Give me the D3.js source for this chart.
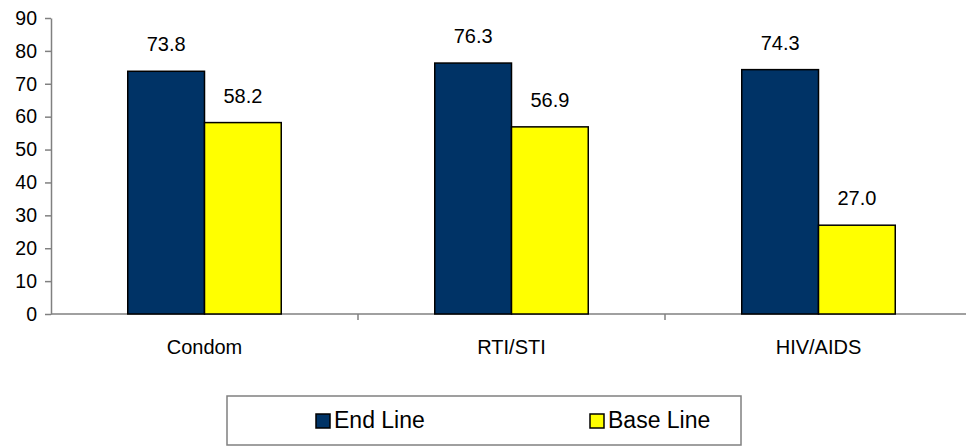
<!DOCTYPE html>
<html><head><meta charset="utf-8">
<script src="https://cdn.jsdelivr.net/npm/d3@7"></script>
<style>body{margin:0;background:#fff}svg{display:block;font-family:"Liberation Sans",Arial,sans-serif}</style>
</head><body>
<script>
const categories = ["Condom", "RTI/STI", "HIV/AIDS"];
const seriesNames = ["End Line", "Base Line"];
const endLine = [73.8, 76.3, 74.3];
const baseLine = [58.2, 56.9, 27.0];
const yTicks = [0, 10, 20, 30, 40, 50, 60, 70, 80, 90];
const colors = ["#003366", "#FFFF00"];

const W = 966, H = 447;
const svg = d3.select("body").append("svg").attr("width", W).attr("height", H);

const mLeft = 51, mRight = 972, mTop = 18, mBottom = 314;
const y = d3.scaleLinear().domain([0, 90]).range([mBottom, mTop]);
const x0 = d3.scaleBand().domain(categories).range([mLeft, mRight]).padding(0);
const x1 = d3.scaleBand().domain(seriesNames).range([x0.bandwidth() * 0.25, x0.bandwidth() * 0.75]).padding(0);

const axisColor = "#808080";
// y axis
const yAxis = svg.append("g").attr("transform", `translate(${mLeft},0)`)
  .call(d3.axisLeft(y).tickValues(yTicks).tickSize(6).tickSizeOuter(0).tickPadding(8));
yAxis.select(".domain").attr("stroke", axisColor).attr("stroke-width", 1.5);
yAxis.selectAll(".tick line").attr("stroke", axisColor).attr("stroke-width", 1.5);
yAxis.selectAll(".tick text").attr("font-size", 19.5).attr("fill", "#000").attr("font-family", "Liberation Sans, Arial, sans-serif");

// x axis line and boundary ticks
const xg = svg.append("g");
xg.append("line").attr("x1", mLeft).attr("x2", W).attr("y1", y(0)).attr("y2", y(0))
  .attr("stroke", axisColor).attr("stroke-width", 1.5);
categories.slice(1).forEach(c => {
  xg.append("line").attr("x1", x0(c)).attr("x2", x0(c)).attr("y1", y(0)).attr("y2", y(0) + 6)
    .attr("stroke", axisColor).attr("stroke-width", 1.5);
});
xg.selectAll("text.cat").data(categories).join("text").attr("class", "cat")
  .attr("x", d => x0(d) + x0.bandwidth() / 2).attr("y", 354)
  .attr("text-anchor", "middle").attr("font-size", 20).attr("fill", "#000").text(d => d);

// bars
const data = categories.map((c, i) => ({ c, vals: [endLine[i], baseLine[i]] }));
const groups = svg.append("g").selectAll("g").data(data).join("g")
  .attr("transform", d => `translate(${x0(d.c)},0)`);
groups.selectAll("rect").data(d => d.vals.map((v, j) => ({ v, s: seriesNames[j], j })))
  .join("rect")
  .attr("x", d => x1(d.s)).attr("width", x1.bandwidth())
  .attr("y", d => y(d.v)).attr("height", d => y(0) - y(d.v))
  .attr("fill", d => colors[d.j]).attr("stroke", "#000").attr("stroke-width", 1.5);
groups.selectAll("text").data(d => d.vals.map((v, j) => ({ v, s: seriesNames[j] })))
  .join("text")
  .attr("x", d => x1(d.s) + x1.bandwidth() / 2).attr("y", d => y(d.v) - 20)
  .attr("text-anchor", "middle").attr("font-size", 20).attr("fill", "#000")
  .text(d => d.v.toFixed(1));

// legend
const lg = svg.append("g");
lg.append("rect").attr("x", 227).attr("y", 396).attr("width", 514).attr("height", 49)
  .attr("fill", "#fff").attr("stroke", axisColor).attr("stroke-width", 1.5);
const legX = [316, 590];
seriesNames.forEach((s, i) => {
  lg.append("rect").attr("x", legX[i]).attr("y", 414).attr("width", 14).attr("height", 14)
    .attr("fill", colors[i]).attr("stroke", "#000").attr("stroke-width", 1.5);
  lg.append("text").attr("x", legX[i] + 18).attr("y", 428).attr("font-size", 23).attr("fill", "#000").text(s);
});
</script>
</body></html>
